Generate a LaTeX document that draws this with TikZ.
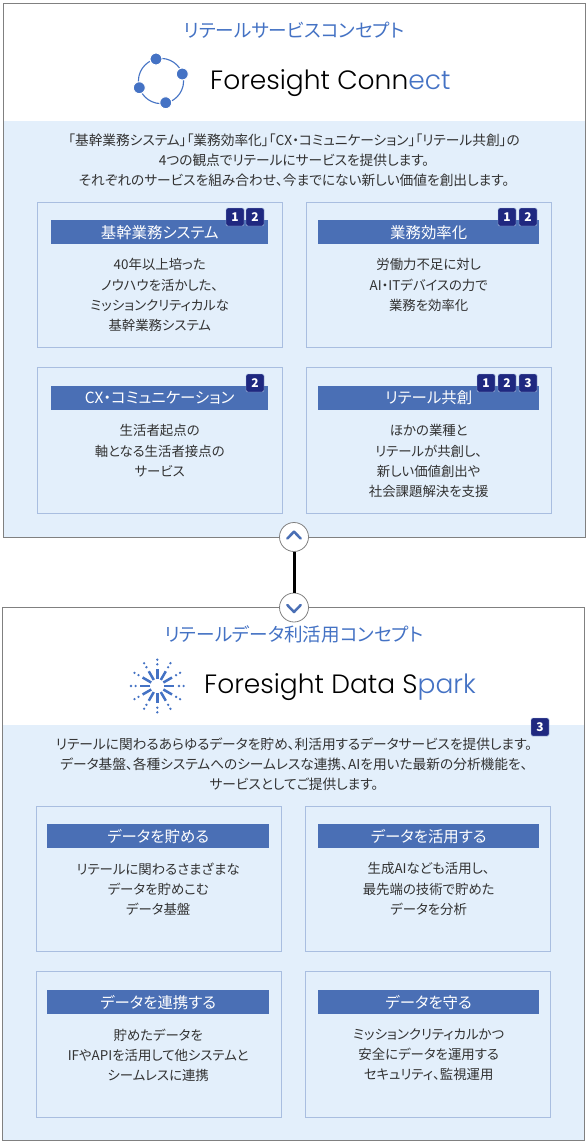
\documentclass[tikz,border=0pt]{standalone}
\usepackage{fontspec}
\setmainfont[RawFeature=+palt]{Noto Sans CJK JP}
\newfontfamily\logofont{Poppins Light}
\usetikzlibrary{positioning}
\definecolor{sky}{RGB}{227,239,251}
\definecolor{ocean}{RGB}{74,111,181}
\definecolor{title}{RGB}{68,114,196}
\definecolor{navy}{RGB}{31,40,128}
\definecolor{edge}{RGB}{169,190,224}
\definecolor{frame}{RGB}{128,128,128}
\definecolor{ink}{RGB}{50,50,50}
\tikzset{
  x=1pt,y=-1pt,
  panel/.style={draw=frame,line width=1pt,fill=white},
  band/.style={fill=sky},
  heading/.style={font=\fontsize{18.6}{22}\selectfont,text=title},
  intro/.style={font=\fontsize{13.7}{20.2}\selectfont,text=ink,align=center,inner sep=0pt},
  card/.style={draw=edge,line width=0.8pt,fill=sky,anchor=north west,minimum width=245pt,minimum height=145pt,inner sep=0pt},
  hd/.style={fill=ocean,text=white,anchor=north west,minimum height=24pt,inner sep=0pt,font=\fontsize{15.4}{16}\selectfont},
  body/.style={font=\fontsize{13.4}{20.2}\selectfont,text=ink,align=center,inner sep=0pt,anchor=north},
  badge/.style={fill=navy,draw=edge,line width=0.4pt,text=white,rounded corners=1.5pt,minimum size=18pt,inner sep=0pt,font=\fontsize{12}{12}\selectfont\bfseries},
  knob/.style={circle,draw=frame,line width=0.8pt,fill=white,minimum size=29pt,inner sep=0pt},
  chevron/.style={draw=ocean,line width=2.5pt,line cap=round,line join=round},
  logotext/.style={font=\logofont\fontsize{26.5}{30}\selectfont,text=black,inner sep=0pt,anchor=west},
  pics/connectmark/.style={code={
    \draw[title,line width=1.1pt] (0,0) circle (22.6);
    \foreach \a/\b in {-5/-22,21.3/-7,-21.7/6.7,4.7/21.7} \filldraw[fill=title,draw=white,line width=1pt] (\a,\b) circle (6);
  }},
  pics/sparkmark/.style={code={
    \foreach \r in {0,30,...,330} {
      \draw[title,line width=2.5pt] (\r:7) -- (\r:17);
      \fill[title] (\r:21.7) circle (1.3);
      \fill[title] (\r:26.3) circle (1.3);
    }
  }},
}
\begin{document}
\begin{tikzpicture}
  \useasboundingbox (0,0) rectangle (587,1143);
  % retail service
  \draw[panel] (3.5,3.5) rectangle (585,537);
  \fill[band] (4,121) rectangle (584.5,536.5);
  \node[heading] (svctitle) at (294,30) {リテールサービスコンセプト};
  \pic at (161,81) {connectmark};
  \node[logotext] (svclogo) at (210,83) {Foresight Conn\textcolor{title}{ect}};
  \node[intro] (svcintro) at (294,160) {「基幹業務システム」「業務効率化」「CX・コミュニケーション」「リテール共創」の\\4つの観点でリテールにサービスを提供します。\\それぞれのサービスを組み合わせ、今までにない新しい価値を創出します。};

  \node[card] (card1) at (37,202) {};
  \node[card] (card2) at (306,202) {};
  \node[card,minimum height=146pt] (card3) at (37,367) {};
  \node[card,minimum height=146pt] (card4) at (306,367) {};
  \node[hd,minimum width=217pt] (hd1) at (51,220) {基幹業務システム};
  \node[hd,minimum width=221pt] (hd2) at (318,220) {業務効率化};
  \node[hd,minimum width=217pt] (hd3) at (51,386) {CX・コミュニケーション};
  \node[hd,minimum width=221pt] (hd4) at (318,386) {リテール共創};
  \node[body,below=14pt of hd1] (txt1) {40年以上培った\\ノウハウを活かした、\\ミッションクリティカルな\\基幹業務システム};
  \node[body,below=14pt of hd2] (txt2) {労働力不足に対し\\AI・ITデバイスの力で\\業務を効率化};
  \node[body,below=14pt of hd3] (txt3) {生活者起点の\\軸となる生活者接点の\\サービス};
  \node[body,below=14pt of hd4] (txt4) {ほかの業種と\\リテールが共創し、\\新しい価値創出や\\社会課題解決を支援};
  \node[badge] (b11) at (235,217) {1};
  \node[badge] (b12) at (255,217) {2};
  \node[badge] (b21) at (507,217) {1};
  \node[badge] (b22) at (528,217) {2};
  \node[badge] (b31) at (255,383) {2};
  \node[badge] (b41) at (486,383) {1};
  \node[badge] (b42) at (507,383) {2};
  \node[badge] (b43) at (528,383) {3};

  % retail data
  \draw[panel] (2.5,607) rectangle (584,1140);
  \fill[band] (3,725) rectangle (583.5,1139.5);
  \node[heading] (datatitle) at (294,634) {リテールデータ利活用コンセプト};
  \pic at (157.3,686) {sparkmark};
  \node[logotext] (datalogo) at (204,687) {Foresight Data S\textcolor{title}{park}};
  \node[intro] (dataintro) at (294,764) {リテールに関わるあらゆるデータを貯め、利活用するデータサービスを提供します。\\データ基盤、各種システムへのシームレスな連携、AIを用いた最新の分析機能を、\\サービスとしてご提供します。};
  \node[badge] (b3) at (540,727) {3};

  \node[card] (card5) at (36,806) {};
  \node[card] (card6) at (305,806) {};
  \node[card,minimum height=146pt] (card7) at (36,971) {};
  \node[card,minimum height=146pt] (card8) at (305,971) {};
  \node[hd,minimum width=222pt] (hd5) at (47,824) {データを貯める};
  \node[hd,minimum width=221pt] (hd6) at (318,824) {データを活用する};
  \node[hd,minimum width=222pt] (hd7) at (47,990) {データを連携する};
  \node[hd,minimum width=221pt] (hd8) at (318,990) {データを守る};
  \node[body,below=14pt of hd5] (txt5) {リテールに関わるさまざまな\\データを貯めこむ\\データ基盤};
  \node[body,below=14pt of hd6] (txt6) {生成AIなども活用し、\\最先端の技術で貯めた\\データを分析};
  \node[body,below=14pt of hd7] (txt7) {貯めたデータを\\IFやAPIを活用して他システムと\\シームレスに連携};
  \node[body,below=14pt of hd8] (txt8) {ミッションクリティカルかつ\\安全にデータを運用する\\セキュリティ、監視運用};

  % link between both panels
  \node[knob] (up) at (294,537) {};
  \node[knob] (down) at (294,607.5) {};
  \draw[black,line width=3pt] (up) -- (down);
  \draw[chevron] (287.3,538.5) -- (294,531.7) -- (300.7,538.5);
  \draw[chevron] (287.3,605) -- (294,612) -- (300.7,605);
\end{tikzpicture}
\end{document}
